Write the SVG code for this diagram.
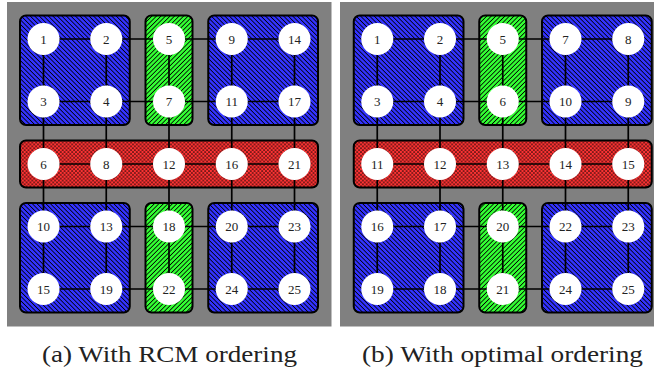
<svg xmlns="http://www.w3.org/2000/svg" width="654" height="372" viewBox="0 0 654 372">
<defs>
<pattern id="pb" width="3.2" height="3.2" patternUnits="userSpaceOnUse" patternTransform="rotate(-45)">
<rect width="3.2" height="3.2" fill="#3333ff"/>
<rect width="0.8" height="3.2" fill="#000"/>
</pattern>
<pattern id="pg" width="3.2" height="3.2" patternUnits="userSpaceOnUse" patternTransform="rotate(45)">
<rect width="3.2" height="3.2" fill="#33ff33"/>
<rect width="0.8" height="3.2" fill="#000"/>
</pattern>
<pattern id="pr" width="3.8" height="3.8" patternUnits="userSpaceOnUse">
<rect width="3.8" height="3.8" fill="#ff3333"/>
<circle cx="0" cy="0" r="0.8" fill="#000"/>
<circle cx="3.8" cy="0" r="0.8" fill="#000"/>
<circle cx="0" cy="3.8" r="0.8" fill="#000"/>
<circle cx="3.8" cy="3.8" r="0.8" fill="#000"/>
<circle cx="1.9" cy="1.9" r="0.8" fill="#000"/>
</pattern>
</defs>
<style>
.bg{fill:#808080}
.box{stroke:#000;stroke-width:2}
.b{fill:url(#pb)}
.g{fill:url(#pg)}
.r{fill:url(#pr)}
.e line{stroke:#000;stroke-width:1.7}
.n circle{fill:#fff}
.n text{font-size:13px;text-anchor:middle;fill:#222}
.cap{font-size:23px;text-anchor:middle;fill:#222}
</style>
<rect class="bg" x="7" y="2" width="324.5" height="324.5"/>
<rect class="bg" x="340" y="2" width="314" height="324.5"/>
<g id="groups-a">
<rect class="box b" x="20" y="15.5" width="109.75" height="109.5" rx="6"/>
<rect class="box g" x="145.5" y="15.5" width="47" height="109.5" rx="6"/>
<rect class="box b" x="208.25" y="15.5" width="109.75" height="109.5" rx="6"/>
<rect class="box r" x="20" y="140.5" width="298" height="47" rx="6"/>
<rect class="box b" x="20" y="203" width="109.75" height="109.5" rx="6"/>
<rect class="box g" x="145.5" y="203" width="47" height="109.5" rx="6"/>
<rect class="box b" x="208.25" y="203" width="109.75" height="109.5" rx="6"/>
</g>
<g id="groups-b">
<rect class="box b" x="353.75" y="15.5" width="109.75" height="109.5" rx="6"/>
<rect class="box g" x="479.25" y="15.5" width="47" height="109.5" rx="6"/>
<rect class="box b" x="542" y="15.5" width="109.75" height="109.5" rx="6"/>
<rect class="box r" x="353.75" y="140.5" width="298" height="47" rx="6"/>
<rect class="box b" x="353.75" y="203" width="109.75" height="109.5" rx="6"/>
<rect class="box g" x="479.25" y="203" width="47" height="109.5" rx="6"/>
<rect class="box b" x="542" y="203" width="109.75" height="109.5" rx="6"/>
</g>
<g id="connectors" class="e">
<line x1="43.5" y1="39" x2="294.5" y2="39"/>
<line x1="43.5" y1="101.5" x2="294.5" y2="101.5"/>
<line x1="43.5" y1="164" x2="294.5" y2="164"/>
<line x1="43.5" y1="226.5" x2="294.5" y2="226.5"/>
<line x1="43.5" y1="289" x2="294.5" y2="289"/>
<line x1="43.5" y1="39" x2="43.5" y2="289"/>
<line x1="106.25" y1="39" x2="106.25" y2="289"/>
<line x1="169" y1="39" x2="169" y2="289"/>
<line x1="231.75" y1="39" x2="231.75" y2="289"/>
<line x1="294.5" y1="39" x2="294.5" y2="289"/>
<line x1="377.25" y1="39" x2="628.25" y2="39"/>
<line x1="377.25" y1="101.5" x2="628.25" y2="101.5"/>
<line x1="377.25" y1="164" x2="628.25" y2="164"/>
<line x1="377.25" y1="226.5" x2="628.25" y2="226.5"/>
<line x1="377.25" y1="289" x2="628.25" y2="289"/>
<line x1="377.25" y1="39" x2="377.25" y2="289"/>
<line x1="440" y1="39" x2="440" y2="289"/>
<line x1="502.75" y1="39" x2="502.75" y2="289"/>
<line x1="565.5" y1="39" x2="565.5" y2="289"/>
<line x1="628.25" y1="39" x2="628.25" y2="289"/>
</g>
<g id="nodes-a" class="n" font-family="'Liberation Serif', 'DejaVu Serif', serif">
<g id="a1"><circle cx="43.5" cy="39" r="16"/><text x="43.5" y="43.5">1</text></g>
<g id="a2"><circle cx="106.25" cy="39" r="16"/><text x="106.25" y="43.5">2</text></g>
<g id="a5"><circle cx="169" cy="39" r="16"/><text x="169" y="43.5">5</text></g>
<g id="a9"><circle cx="231.75" cy="39" r="16"/><text x="231.75" y="43.5">9</text></g>
<g id="a14"><circle cx="294.5" cy="39" r="16"/><text x="294.5" y="43.5">14</text></g>
<g id="a3"><circle cx="43.5" cy="101.5" r="16"/><text x="43.5" y="106">3</text></g>
<g id="a4"><circle cx="106.25" cy="101.5" r="16"/><text x="106.25" y="106">4</text></g>
<g id="a7"><circle cx="169" cy="101.5" r="16"/><text x="169" y="106">7</text></g>
<g id="a11"><circle cx="231.75" cy="101.5" r="16"/><text x="231.75" y="106">11</text></g>
<g id="a17"><circle cx="294.5" cy="101.5" r="16"/><text x="294.5" y="106">17</text></g>
<g id="a6"><circle cx="43.5" cy="164" r="16"/><text x="43.5" y="168.5">6</text></g>
<g id="a8"><circle cx="106.25" cy="164" r="16"/><text x="106.25" y="168.5">8</text></g>
<g id="a12"><circle cx="169" cy="164" r="16"/><text x="169" y="168.5">12</text></g>
<g id="a16"><circle cx="231.75" cy="164" r="16"/><text x="231.75" y="168.5">16</text></g>
<g id="a21"><circle cx="294.5" cy="164" r="16"/><text x="294.5" y="168.5">21</text></g>
<g id="a10"><circle cx="43.5" cy="226.5" r="16"/><text x="43.5" y="231">10</text></g>
<g id="a13"><circle cx="106.25" cy="226.5" r="16"/><text x="106.25" y="231">13</text></g>
<g id="a18"><circle cx="169" cy="226.5" r="16"/><text x="169" y="231">18</text></g>
<g id="a20"><circle cx="231.75" cy="226.5" r="16"/><text x="231.75" y="231">20</text></g>
<g id="a23"><circle cx="294.5" cy="226.5" r="16"/><text x="294.5" y="231">23</text></g>
<g id="a15"><circle cx="43.5" cy="289" r="16"/><text x="43.5" y="293.5">15</text></g>
<g id="a19"><circle cx="106.25" cy="289" r="16"/><text x="106.25" y="293.5">19</text></g>
<g id="a22"><circle cx="169" cy="289" r="16"/><text x="169" y="293.5">22</text></g>
<g id="a24"><circle cx="231.75" cy="289" r="16"/><text x="231.75" y="293.5">24</text></g>
<g id="a25"><circle cx="294.5" cy="289" r="16"/><text x="294.5" y="293.5">25</text></g>
</g>
<g id="nodes-b" class="n" font-family="'Liberation Serif', 'DejaVu Serif', serif">
<g id="b1"><circle cx="377.25" cy="39" r="16"/><text x="377.25" y="43.5">1</text></g>
<g id="b2"><circle cx="440" cy="39" r="16"/><text x="440" y="43.5">2</text></g>
<g id="b5"><circle cx="502.75" cy="39" r="16"/><text x="502.75" y="43.5">5</text></g>
<g id="b7"><circle cx="565.5" cy="39" r="16"/><text x="565.5" y="43.5">7</text></g>
<g id="b8"><circle cx="628.25" cy="39" r="16"/><text x="628.25" y="43.5">8</text></g>
<g id="b3"><circle cx="377.25" cy="101.5" r="16"/><text x="377.25" y="106">3</text></g>
<g id="b4"><circle cx="440" cy="101.5" r="16"/><text x="440" y="106">4</text></g>
<g id="b6"><circle cx="502.75" cy="101.5" r="16"/><text x="502.75" y="106">6</text></g>
<g id="b10"><circle cx="565.5" cy="101.5" r="16"/><text x="565.5" y="106">10</text></g>
<g id="b9"><circle cx="628.25" cy="101.5" r="16"/><text x="628.25" y="106">9</text></g>
<g id="b11"><circle cx="377.25" cy="164" r="16"/><text x="377.25" y="168.5">11</text></g>
<g id="b12"><circle cx="440" cy="164" r="16"/><text x="440" y="168.5">12</text></g>
<g id="b13"><circle cx="502.75" cy="164" r="16"/><text x="502.75" y="168.5">13</text></g>
<g id="b14"><circle cx="565.5" cy="164" r="16"/><text x="565.5" y="168.5">14</text></g>
<g id="b15"><circle cx="628.25" cy="164" r="16"/><text x="628.25" y="168.5">15</text></g>
<g id="b16"><circle cx="377.25" cy="226.5" r="16"/><text x="377.25" y="231">16</text></g>
<g id="b17"><circle cx="440" cy="226.5" r="16"/><text x="440" y="231">17</text></g>
<g id="b20"><circle cx="502.75" cy="226.5" r="16"/><text x="502.75" y="231">20</text></g>
<g id="b22"><circle cx="565.5" cy="226.5" r="16"/><text x="565.5" y="231">22</text></g>
<g id="b23"><circle cx="628.25" cy="226.5" r="16"/><text x="628.25" y="231">23</text></g>
<g id="b19"><circle cx="377.25" cy="289" r="16"/><text x="377.25" y="293.5">19</text></g>
<g id="b18"><circle cx="440" cy="289" r="16"/><text x="440" y="293.5">18</text></g>
<g id="b21"><circle cx="502.75" cy="289" r="16"/><text x="502.75" y="293.5">21</text></g>
<g id="b24"><circle cx="565.5" cy="289" r="16"/><text x="565.5" y="293.5">24</text></g>
<g id="b25"><circle cx="628.25" cy="289" r="16"/><text x="628.25" y="293.5">25</text></g>
</g>
<text class="cap" font-family="'Liberation Serif', 'DejaVu Serif', serif" x="169.5" y="362" textLength="255" lengthAdjust="spacingAndGlyphs">(a) With RCM ordering</text>
<text class="cap" font-family="'Liberation Serif', 'DejaVu Serif', serif" x="502.5" y="362" textLength="281" lengthAdjust="spacingAndGlyphs">(b) With optimal ordering</text>
</svg>
